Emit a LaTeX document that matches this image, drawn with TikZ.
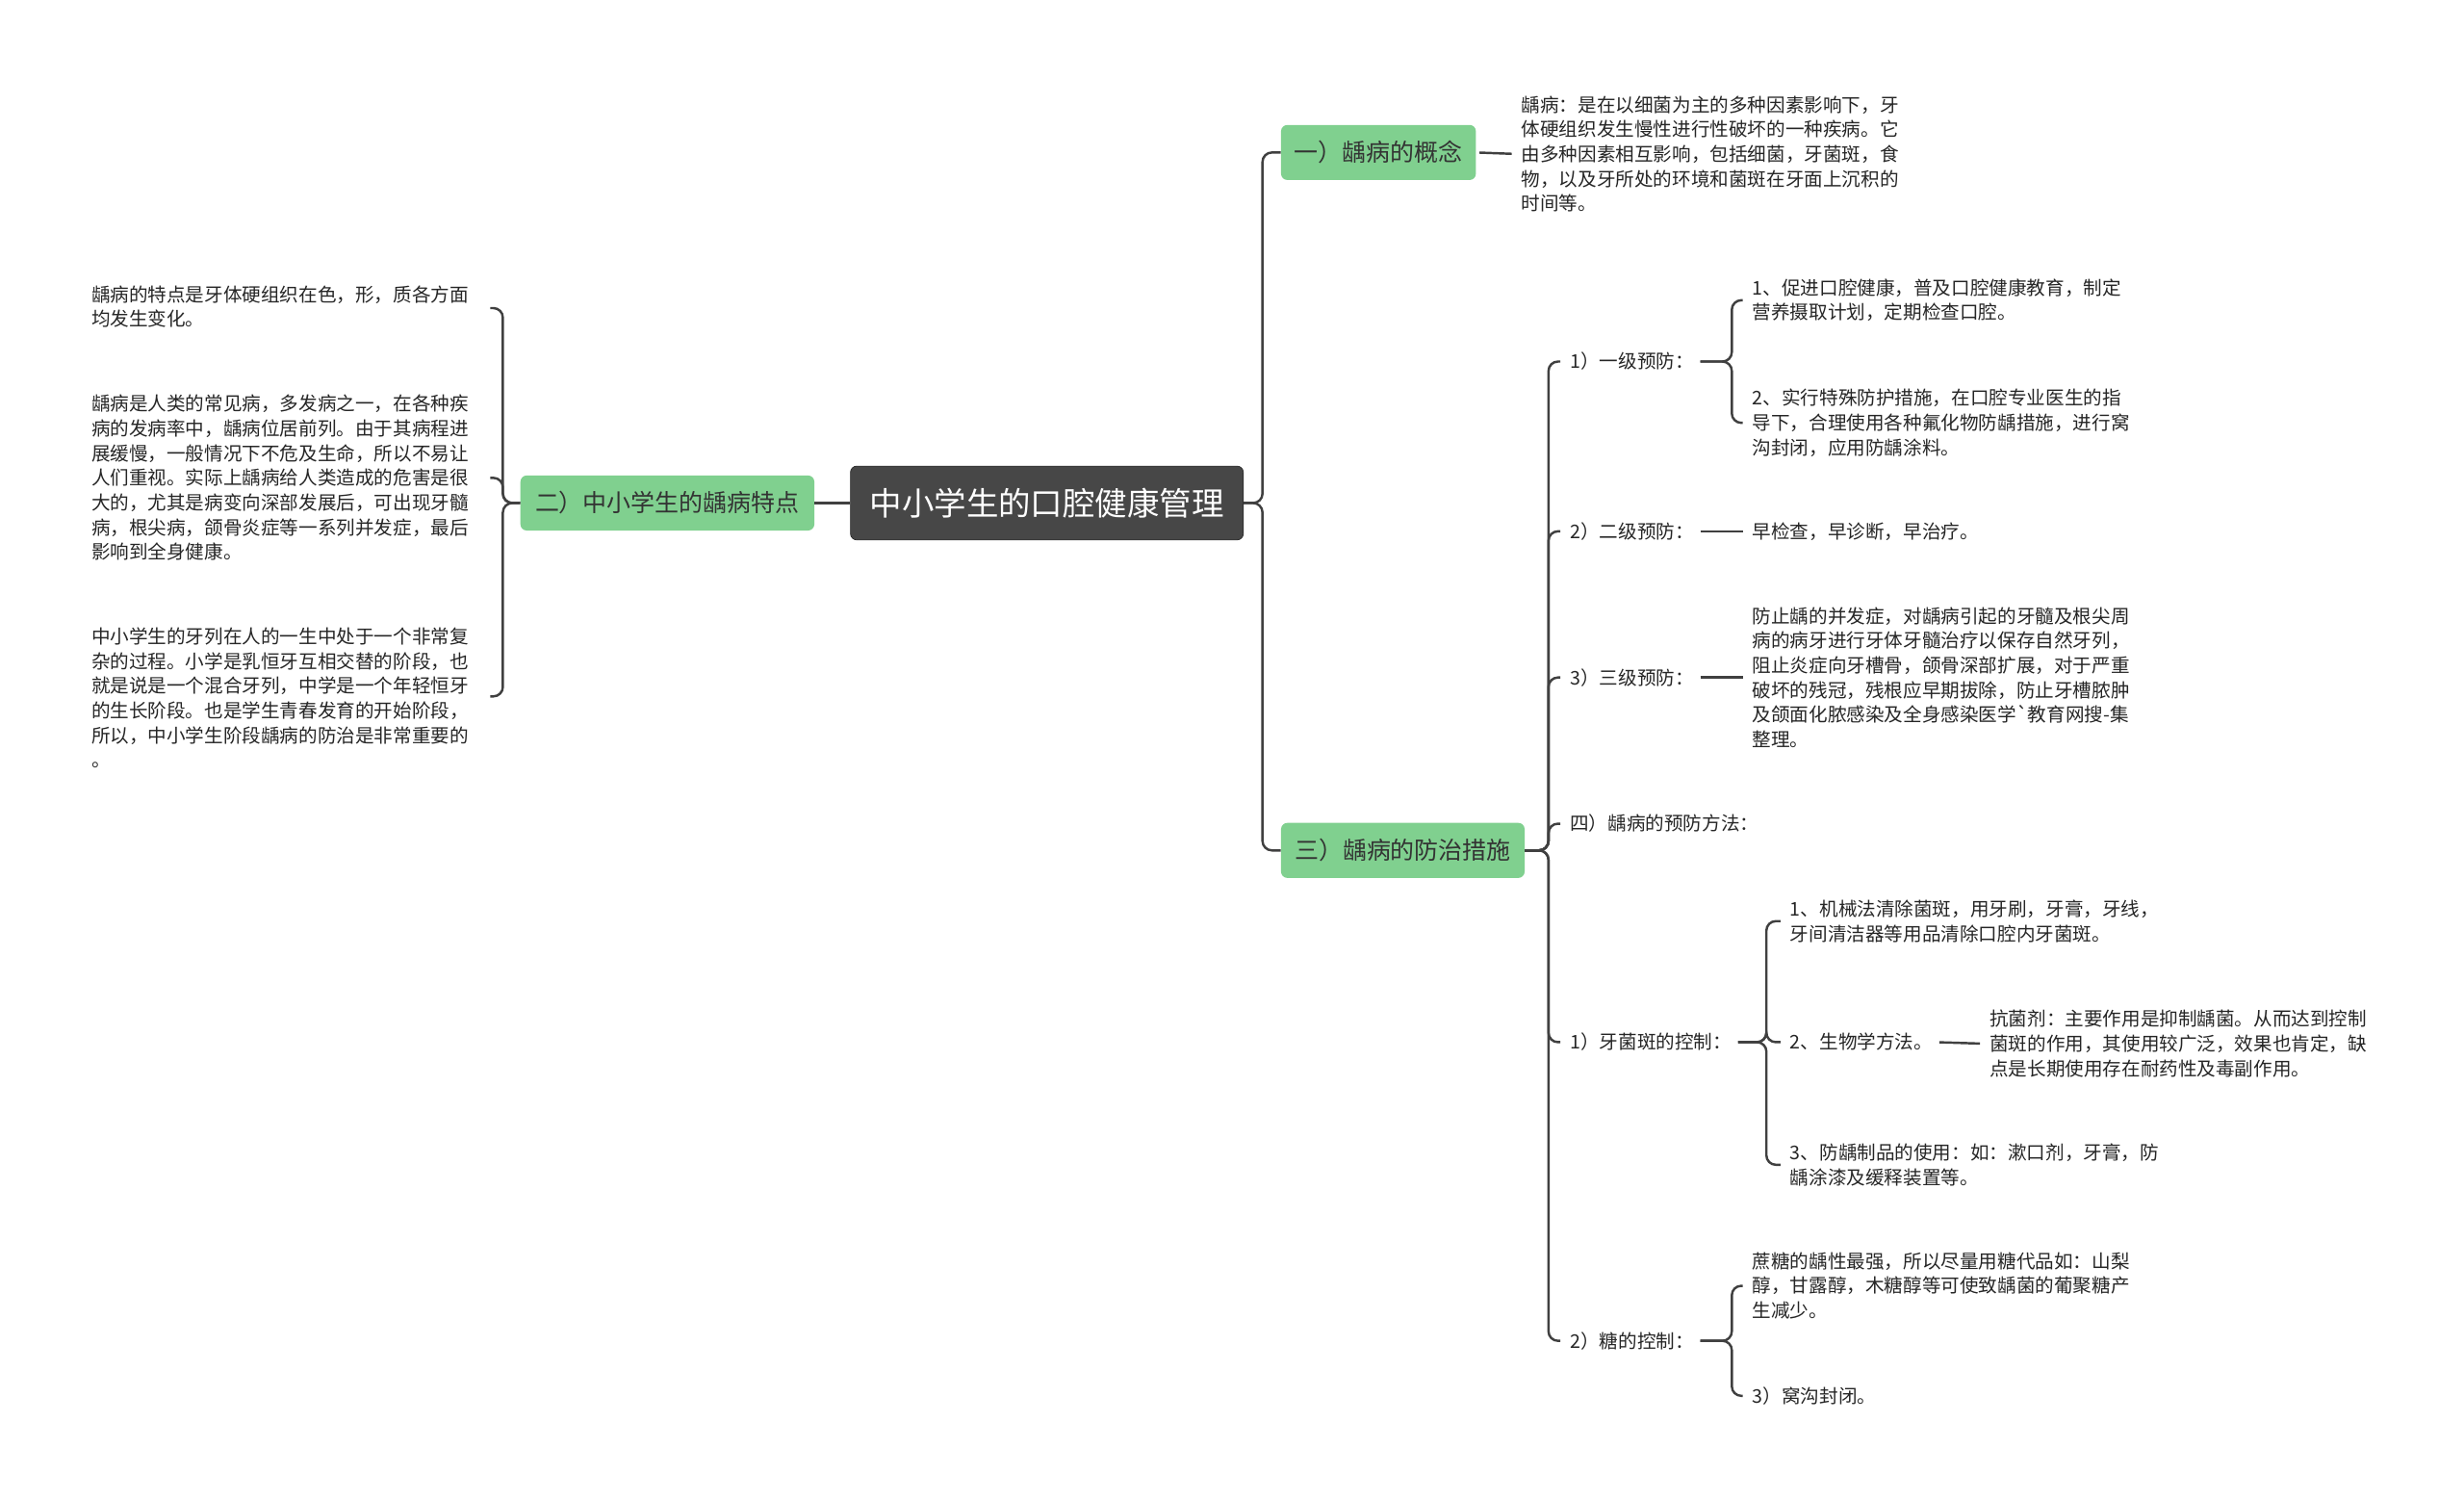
\documentclass[tikz,border=0pt]{standalone}
\usepackage{fontspec}
\newfontfamily\cjk{Noto Sans CJK SC}
\begin{document}
\begin{tikzpicture}[x=1pt,y=-1pt,
  txt/.style={font=\cjk\fontsize{12}{15.7}\selectfont, align=left, inner xsep=2pt, inner ysep=0pt, anchor=west, text=black!85},
  gbox/.style={font=\cjk\fontsize{15.3}{18}\selectfont, draw=none, rounded corners=4pt, minimum height=35pt, inner xsep=7pt, anchor=west, text=black!80},
  rootbox/.style={font=\cjk\fontsize{20.5}{24}\selectfont, fill=black!72, draw=black!85, rounded corners=4pt, minimum height=47pt, minimum width=250pt, text=white, anchor=west},
  conn/.style={draw=black!75, line width=1.5pt, rounded corners=6pt, shorten <=2pt, shorten >=4pt}]
\definecolor{gfill}{HTML}{80D08F}
\tikzset{gbox/.append style={fill=gfill}}
\useasboundingbox[fill=white] (0,0) rectangle (1568,954);

\node[rootbox] (root) at (541,320) {中小学生的口腔健康管理};
\node[gbox, minimum width=187pt] (L) at (331,320) {二）中小学生的龋病特点};
\node[gbox, minimum width=124pt] (c1) at (815,97) {一）龋病的概念};
\node[gbox, minimum width=155pt] (c3) at (815,541) {三）龋病的防治措施};

% left texts
\node[txt] (b1) at (56,195) {龋病的特点是牙体硬组织在色，形，质各方面\\均发生变化。};
\node[txt] (b2) at (56,304) {龋病是人类的常见病，多发病之一，在各种疾\\病的发病率中，龋病位居前列。由于其病程进\\展缓慢，一般情况下不危及生命，所以不易让\\人们重视。实际上龋病给人类造成的危害是很\\大的，尤其是病变向深部发展后，可出现牙髓\\病，根尖病，颌骨炎症等一系列并发症，最后\\影响到全身健康。};
\node[txt] (b3) at (56,444) {中小学生的牙列在人的一生中处于一个非常复\\杂的过程。小学是乳恒牙互相交替的阶段，也\\就是说是一个混合牙列，中学是一个年轻恒牙\\的生长阶段。也是学生青春发育的开始阶段，\\所以，中小学生阶段龋病的防治是非常重要的\\。};
\coordinate (b1e) at (308,196);
\coordinate (b2e) at (308,304);
\coordinate (b3e) at (308,443);

% concept
\node[txt] (ct) at (966,98) {龋病：是在以细菌为主的多种因素影响下，牙\\体硬组织发生慢性进行性破坏的一种疾病。它\\由多种因素相互影响，包括细菌，牙菌斑，食\\物，以及牙所处的环境和菌斑在牙面上沉积的\\时间等。};

\node[txt] (p1) at (997,230) {1）一级预防：};
\node[txt] (p2) at (997,338) {2）二级预防：};
\node[txt] (p3) at (997,431) {3）三级预防：};
\node[txt] (p4) at (997,524) {四）龋病的预防方法：};
\node[txt] (p5) at (997,663) {1）牙菌斑的控制：};
\node[txt] (p6) at (997,853) {2）糖的控制：};

\node[txt] (p1a) at (1113,191) {1、促进口腔健康，普及口腔健康教育，制定\\营养摄取计划，定期检查口腔。};
\node[txt] (p1b) at (1113,269) {2、实行特殊防护措施，在口腔专业医生的指\\导下，合理使用各种氟化物防龋措施，进行窝\\沟封闭，应用防龋涂料。};
\node[txt] (p2a) at (1113,338) {早检查，早诊断，早治疗。};
\node[txt] (p3a) at (1113,431) {防止龋的并发症，对龋病引起的牙髓及根尖周\\病的病牙进行牙体牙髓治疗以保存自然牙列，\\阻止炎症向牙槽骨，颌骨深部扩展，对于严重\\破坏的残冠，残根应早期拔除，防止牙槽脓肿\\及颌面化脓感染及全身感染医学`教育网搜-集\\整理。};

\node[txt] (p5a) at (1137,586) {1、机械法清除菌斑，用牙刷，牙膏，牙线，\\牙间清洁器等用品清除口腔内牙菌斑。};
\node[txt] (p5b) at (1137,663) {2、生物学方法。};
\node[txt] (p5c) at (1137,741) {3、防龋制品的使用：如：漱口剂，牙膏，防\\龋涂漆及缓释装置等。};
\node[txt] (p5b1) at (1264,664) {抗菌剂：主要作用是抑制龋菌。从而达到控制\\菌斑的作用，其使用较广泛，效果也肯定，缺\\点是长期使用存在耐药性及毒副作用。};

\node[txt] (p6a) at (1113,818) {蔗糖的龋性最强，所以尽量用糖代品如：山梨\\醇，甘露醇，木糖醇等可使致龋菌的葡聚糖产\\生减少。};
\node[txt] (p6b) at (1113,888) {3）窝沟封闭。};

\draw[conn,shorten <=0pt,shorten >=0pt] (root.west) -- (L.east);
\foreach \c in {c1,c3} \draw[conn,shorten <=0pt,shorten >=0pt] (root.east) -- ++(12,0) |- (\c.west);
\foreach \b in {b1e,b2e,b3e} \draw[conn,shorten <=0pt] (L.west) -- ++(-11,0) |- (\b);
\draw[conn] (c1.east) -- (ct.west);
\foreach \p in {p1,p2,p3,p4,p5,p6} \draw[conn,shorten <=0pt] (c3.east) -- ++(15,0) |- (\p.west);
\foreach \p in {p1a,p1b} \draw[conn] (p1.east) -- ++(22,0) |- (\p.west);
\draw[conn] (p2.east) -- (p2a.west);
\draw[conn] (p3.east) -- (p3a.west);
\foreach \p in {p5a,p5b,p5c} \draw[conn] (p5.east) -- ++(20,0) |- (\p.west);
\draw[conn] (p5b.east) -- (p5b1.west);
\foreach \p in {p6a,p6b} \draw[conn] (p6.east) -- ++(22,0) |- (\p.west);
\end{tikzpicture}
\end{document}
